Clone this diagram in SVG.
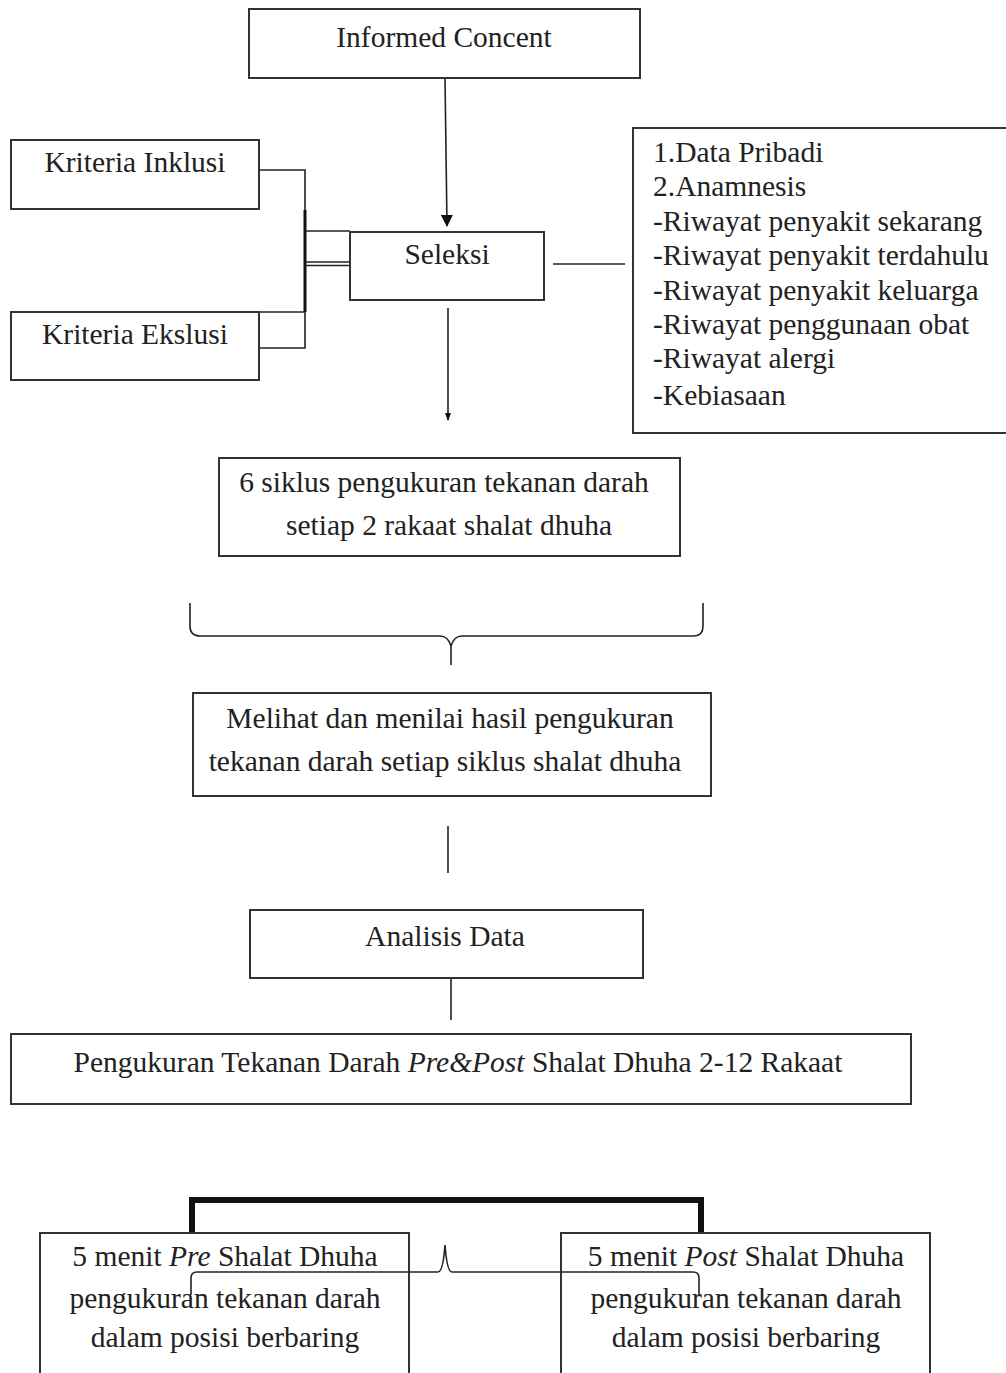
<svg xmlns="http://www.w3.org/2000/svg" width="1006" height="1373" viewBox="0 0 1006 1373">
<style>
.box{fill:#fff;stroke:#333;stroke-width:2}
.t{font-family:"Liberation Serif","Times New Roman",serif;font-size:29.5px;fill:#222}
.c{text-anchor:middle}
.ln{fill:none;stroke:#222;stroke-width:1.6}
.thick{fill:none;stroke:#111;stroke-width:6}
</style>
<defs>
<marker id="ah" markerWidth="12" markerHeight="12" refX="11" refY="6" orient="auto" markerUnits="userSpaceOnUse"><path d="M0,0 L12,6 L0,12 z" fill="#111"/></marker>
<marker id="ahs" markerWidth="8" markerHeight="8" refX="7" refY="4" orient="auto" markerUnits="userSpaceOnUse"><path d="M0,1 L8,4 L0,7 z" fill="#111"/></marker>
</defs>
<g id="connectors">
<line class="ln" x1="445" y1="78" x2="447" y2="226" stroke-width="2.4" marker-end="url(#ah)"/>
<polyline class="ln" points="259,170 305,170 305,212"/>
<line x1="305" y1="210" x2="305" y2="312" stroke="#111" stroke-width="3"/>
<polyline class="ln" points="259,312 305,312 305,348 259,348"/>
<line class="ln" x1="305" y1="231" x2="350" y2="231"/>
<line class="ln" x1="305" y1="262" x2="350" y2="262"/>
<line class="ln" x1="305" y1="265.5" x2="350" y2="265.5"/>
<line class="ln" x1="553" y1="264" x2="625" y2="264"/>
<line class="ln" x1="448" y1="308" x2="448" y2="420" marker-end="url(#ahs)"/>
<path class="ln" stroke-width="2" d="M190,603 L190,626 Q190,636 200,636 L440,636 Q448,636 451,646 L451,665 M451,646 Q454,636 462,636 L694,636 Q703,636 703,626 L703,603"/>
<line class="ln" x1="448" y1="826" x2="448" y2="873"/>
<line class="ln" x1="451" y1="978" x2="451" y2="1020"/>
<polyline class="thick" points="192,1233 192,1200 701,1200 701,1233"/>
</g>
<g id="n-informed"><rect class="box" x="249" y="9" width="391" height="69"/><text class="t c" x="444" y="47">Informed Concent</text></g>
<g id="n-inklusi"><rect class="box" x="11" y="140" width="248" height="69"/><text class="t c" x="135" y="172">Kriteria Inklusi</text></g>
<g id="n-ekslusi"><rect class="box" x="11" y="312" width="248" height="68"/><text class="t c" x="135" y="344">Kriteria Ekslusi</text></g>
<g id="n-seleksi"><rect class="box" x="350" y="232" width="194" height="68"/><text class="t c" x="447" y="264">Seleksi</text></g>
<g id="n-data"><rect class="box" x="633" y="128" width="380" height="305"/>
<text class="t" x="653" y="162">1.Data Pribadi</text>
<text class="t" x="653" y="196">2.Anamnesis</text>
<text class="t" x="653" y="231">-Riwayat penyakit sekarang</text>
<text class="t" x="653" y="265">-Riwayat penyakit terdahulu</text>
<text class="t" x="653" y="300">-Riwayat penyakit keluarga</text>
<text class="t" x="653" y="334">-Riwayat penggunaan obat</text>
<text class="t" x="653" y="368">-Riwayat alergi</text>
<text class="t" x="653" y="405">-Kebiasaan</text>
</g>
<g id="n-siklus"><rect class="box" x="219" y="458" width="461" height="98"/><text class="t c" x="444" y="492">6 siklus pengukuran tekanan darah</text><text class="t c" x="449" y="535">setiap 2 rakaat shalat dhuha</text></g>
<g id="n-melihat"><rect class="box" x="193" y="693" width="518" height="103"/><text class="t c" x="450" y="728">Melihat dan menilai hasil pengukuran</text><text class="t c" x="445" y="771">tekanan darah setiap siklus shalat dhuha</text></g>
<g id="n-analisis"><rect class="box" x="250" y="910" width="393" height="68"/><text class="t c" x="445" y="946">Analisis Data</text></g>
<g id="n-pengukuran"><rect class="box" x="11" y="1034" width="900" height="70"/><text class="t c" x="458" y="1072">Pengukuran Tekanan Darah <tspan font-style="italic">Pre&amp;Post</tspan> Shalat Dhuha 2-12 Rakaat</text></g>
<g id="n-pre"><rect class="box" x="40" y="1233" width="369" height="150"/><text class="t c" x="225" y="1266">5 menit <tspan font-style="italic">Pre</tspan> Shalat Dhuha</text><text class="t c" x="225" y="1308">pengukuran tekanan darah</text><text class="t c" x="225" y="1347">dalam posisi berbaring</text></g>
<g id="n-post"><rect class="box" x="561" y="1233" width="369" height="150"/><text class="t c" x="746" y="1266">5 menit <tspan font-style="italic">Post</tspan> Shalat Dhuha</text><text class="t c" x="746" y="1308">pengukuran tekanan darah</text><text class="t c" x="746" y="1347">dalam posisi berbaring</text></g>
<g id="bottom-brace"><path class="ln" d="M191,1295 L191,1278 Q191,1272 197,1272 L438,1272 Q443,1272 445,1245 Q447,1272 452,1272 L693,1272 Q699,1272 699,1278 L699,1295"/></g>
</svg>
